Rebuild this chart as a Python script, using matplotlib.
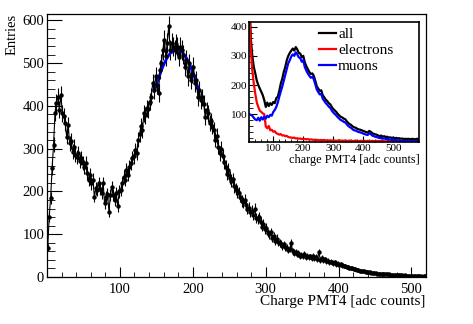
import numpy as np
import matplotlib
matplotlib.use('Agg')
from matplotlib import pyplot as plt
from matplotlib.ticker import MultipleLocator

plt.rcParams['font.family'] = ['Liberation Serif', 'DejaVu Serif']

# ---- main histogram: charge PMT4, bins of 2 adc counts (centres 1,3,...,519)
cuentas = [
    68, 141, 185, 255, 309, 384, 407, 422, 391, 426,
    383, 376, 360, 328, 356, 313, 318, 293, 305, 286,
    280, 290, 272, 279, 266, 258, 266, 243, 227, 239,
    219, 227, 188, 207, 203, 219, 205, 196, 219, 172,
    188, 195, 153, 192, 211, 192, 180, 196, 165, 200,
    203, 219, 235, 227, 250, 239, 258, 266, 278, 282,
    297, 290, 321, 335, 352, 344, 383, 378, 395, 392,
    410, 422, 453, 437, 469, 448, 430, 485, 500, 531,
    555, 516, 547, 587, 531, 547, 539, 531, 545, 539,
    515, 539, 531, 520, 492, 508, 469, 500, 461, 475,
    492, 453, 461, 420, 437, 414, 420, 405, 375, 390,
    383, 360, 365, 352, 344, 321, 330, 305, 289, 300,
    282, 270, 258, 242, 250, 232, 225, 228, 212, 205,
    200, 196, 188, 178, 175, 180, 168, 160, 162, 152,
    155, 145, 160, 137, 135, 140, 128, 118, 125, 112,
    115, 103, 100, 105, 92, 95, 85, 90, 82, 80,
    78, 72, 76, 70, 68, 63, 66, 80, 60, 57,
    58, 54, 55, 50, 52, 49, 53, 47, 50, 46,
    48, 45, 50, 44, 46, 42, 58, 40, 44, 39,
    41, 37, 38, 34, 36, 35, 32, 34, 30, 31,
    29, 30, 27, 26, 25, 24, 23, 22, 21, 20,
    19, 18, 17, 16, 15, 14, 13, 13, 12, 12,
    11, 11, 10, 10, 9, 9, 8, 8, 8, 7,
    7, 7, 6, 6, 6, 5, 5, 5, 5, 4,
    5, 4, 4, 4, 3, 4, 3, 3, 3, 3,
    3, 2, 3, 2, 2, 2, 2, 1, 2, 2,
]
centros = np.arange(1, 2 * len(cuentas), 2)

# gaussian fit on the muon peak
fit_amp = 532.0
fit_media = 178.0
fit_sigma = 48.0
fit_rango = (148, 208)

# ---- inset: bins of 5 adc counts starting at 20
carga_in = np.arange(20, 590, 5)
todos = [
    520, 360, 300, 262, 240, 215, 200, 188, 177, 165,
    148, 125, 140, 128, 138, 132, 142, 138, 155, 160,
    180, 205, 222, 245, 262, 285, 300, 310, 318, 325,
    318, 330, 322, 310, 308, 295, 300, 278, 265, 255,
    245, 238, 240, 232, 215, 196, 188, 180, 182, 165,
    158, 150, 145, 138, 134, 125, 118,
    113, 108, 101, 96, 91, 89, 85, 83, 76, 70,
    66, 63, 58, 55, 54, 50, 48, 47, 45, 43,
    41, 39, 37, 43, 40, 35, 33, 31, 30, 27,
    25, 27, 23, 25, 22, 23, 20, 21, 19, 20,
    18, 19, 17, 18, 16, 17, 15, 16, 15, 16,
    15, 15, 16, 14, 15, 16, 15,
]
electrones = [
    450, 320, 250, 205, 170, 140, 125, 112, 108, 103,
    100, 58, 52, 60, 45, 47, 40, 42, 35, 33,
    30, 32, 27, 28, 25, 26, 22, 21, 20, 19,
    20, 17, 18, 16, 17, 15, 16, 15, 14, 15,
    13, 14, 13, 12, 13, 12, 12, 11, 12, 11,
    12, 10, 11, 10, 11, 10, 10,
    10, 9, 10, 11, 9, 10, 9, 10, 9, 9,
    10, 9, 8, 9, 10, 9, 8, 9, 9, 8,
    9, 8, 9, 8, 8, 9, 8, 8, 9, 8,
    8, 9, 8, 8, 7, 8, 8, 7, 8, 8,
    7, 8, 8, 7, 8, 7, 8, 8, 7, 8,
    7, 8, 7, 8, 7, 8, 8,
]
muones = [
    100, 98, 95, 88, 82, 80, 88, 78, 90, 82,
    92, 85, 95, 90, 98, 95, 108, 115, 125, 140,
    160, 178, 195, 215, 235, 255, 275, 285, 298, 305,
    300, 312, 305, 295, 292, 280, 285, 262, 250, 240,
    232, 225, 228, 220, 203, 185, 176, 168, 170, 153,
    146, 138, 133, 126, 122, 113, 106,
    101, 96, 90, 85, 80, 78, 74, 72, 66, 60,
    56, 53, 48, 45, 44, 41, 39, 38, 36, 34,
    32, 30, 29, 35, 32, 27, 25, 23, 22, 20,
    18, 20, 16, 18, 15, 16, 13, 14, 12, 13,
    11, 12, 10, 11, 9, 10, 8, 9, 8, 9,
    8, 8, 9, 7, 8, 9, 8,
]

fig = plt.figure(figsize=(4.73, 3.24), dpi=100)

#------ MAIN PANEL
ax = fig.add_axes([47 / 473, 1 - 277 / 324, 379 / 473, 263 / 324])
cuentas = np.array(cuentas, dtype=float)
ax.errorbar(centros, cuentas, yerr=np.sqrt(cuentas), fmt='o-', color='black',
            ms=2.2, lw=0.8, elinewidth=0.8, capsize=0)
xf = np.linspace(fit_rango[0], fit_rango[1], 100)
ax.plot(xf, fit_amp * np.exp(-0.5 * ((xf - fit_media) / fit_sigma) ** 2),
        color='#0000ff', lw=2)
ax.set_xlim(0, 520)
ax.set_ylim(0, 615)
ax.xaxis.set_major_locator(MultipleLocator(100))
ax.xaxis.set_minor_locator(MultipleLocator(20))
ax.yaxis.set_major_locator(MultipleLocator(100))
ax.yaxis.set_minor_locator(MultipleLocator(20))
ax.set_xticks([100, 200, 300, 400, 500])
ax.tick_params(which='both', direction='in', top=False, right=False, labelsize=10.5)
ax.tick_params(axis='y', which='major', length=11, pad=2)
ax.tick_params(axis='y', which='minor', length=5.5)
ax.tick_params(axis='x', which='major', length=7, pad=4)
ax.tick_params(axis='x', which='minor', length=3.5)
for s in ax.spines.values():
    s.set_linewidth(0.9)

fig.text(12 / 473, 1 - 14 / 324, 'Entries', rotation=90, ha='center', va='top', fontsize=10.5)
fig.text(425 / 473, 1 - 302 / 324, 'Charge PMT4 [adc counts]', ha='right', va='center', fontsize=11)

#------ INSET
ax2 = fig.add_axes([249.3 / 473, 1 - 141.7 / 324, 170 / 473, 120 / 324])
ax2.plot(carga_in, todos, color='black', lw=1.6, label='all')
ax2.plot(carga_in, electrones, color='#ff0000', lw=1.6, label='electrons')
ax2.plot(carga_in, muones, color='#0000ff', lw=1.6, label='muons')
ax2.set_xlim(20, 587)
ax2.set_ylim(6, 417)
ax2.set_xticks([100, 200, 300, 400, 500])
ax2.xaxis.set_minor_locator(MultipleLocator(20))
ax2.set_yticks([100, 200, 300, 400])
ax2.yaxis.set_minor_locator(MultipleLocator(20))
ax2.tick_params(which='both', direction='in', top=False, right=False, labelsize=8)
ax2.tick_params(axis='y', which='major', length=6, pad=1.5)
ax2.tick_params(axis='y', which='minor', length=3)
ax2.tick_params(axis='x', which='major', length=4, pad=2)
ax2.tick_params(axis='x', which='minor', length=2)
for s in ax2.spines.values():
    s.set_linewidth(1.2)
leg = ax2.legend(loc='upper left', bbox_to_anchor=(0.41, 0.95), frameon=False,
                 fontsize=11, handlelength=1.1, handletextpad=0.15,
                 labelspacing=0.15, borderaxespad=0, borderpad=0)
fig.text(420 / 473, 1 - 159.5 / 324, 'charge PMT4 [adc counts]', ha='right', va='center', fontsize=8.8)

plt.savefig('out.png', dpi=100)
plt.close()
